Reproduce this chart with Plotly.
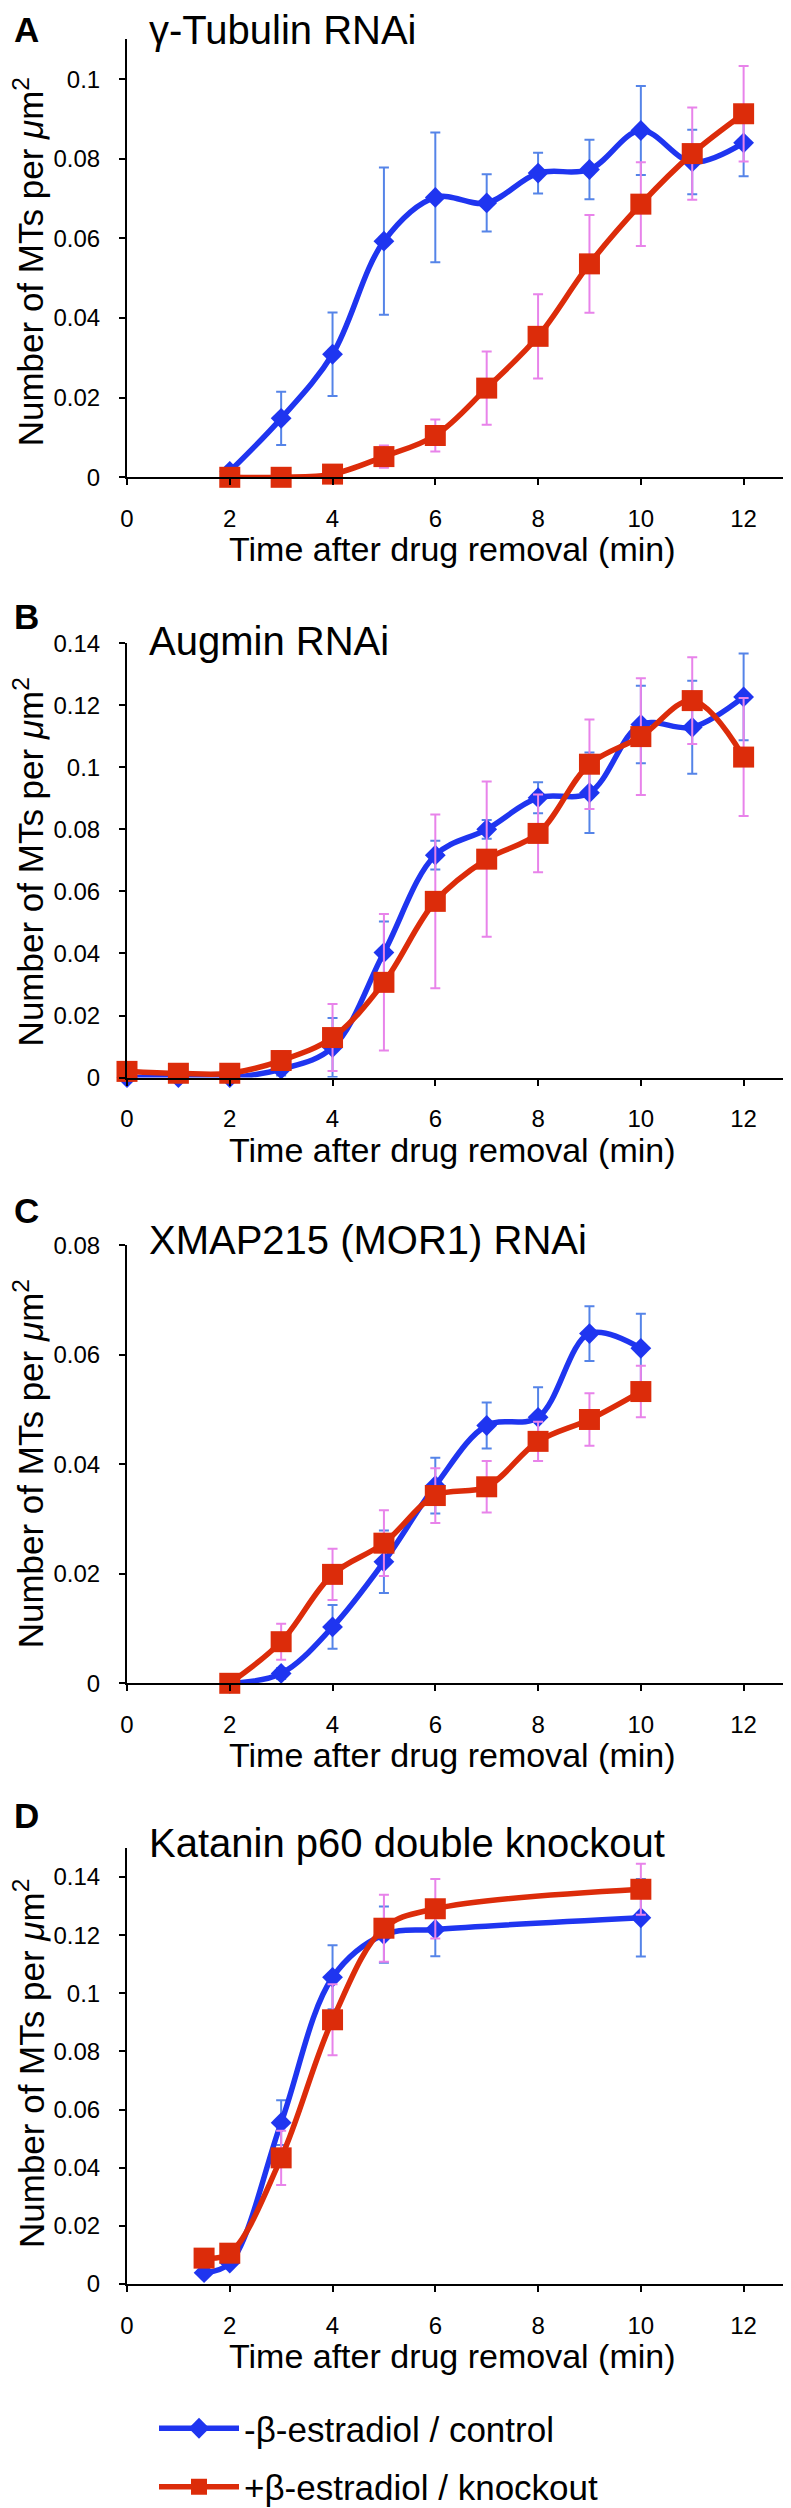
import plotly.graph_objects as go

W, H = 791, 2508

# ---------------- data ----------------
# Panel A: gamma-Tubulin RNAi
time_A = [2, 3, 4, 5, 6, 7, 8, 9, 10, 11, 12]
ctrl_A = [0.0015, 0.0148, 0.0309, 0.0593, 0.0703, 0.0689, 0.0764, 0.0773, 0.0871, 0.0792, 0.0840]
ctrl_A_err = [0.0, 0.0067, 0.0105, 0.0185, 0.0163, 0.0072, 0.0051, 0.0075, 0.0112, 0.0081, 0.0084]
ko_A = [0.0, 0.0, 0.0008, 0.0052, 0.0105, 0.0224, 0.0354, 0.0536, 0.0686, 0.0813, 0.0913]
ko_A_err = [0.0, 0.0, 0.0005, 0.0028, 0.0040, 0.0092, 0.0106, 0.0123, 0.0105, 0.0116, 0.0120]

# Panel B: Augmin RNAi
time_B = [0, 1, 2, 3, 4, 5, 6, 7, 8, 9, 10, 11, 12]
ctrl_B = [0.0, 0.0, 0.0, 0.0027, 0.0097, 0.0403, 0.0717, 0.0800, 0.0902, 0.0918, 0.1138, 0.1129, 0.1227]
ctrl_B_err = [0.0, 0.0, 0.0, 0.0020, 0.0095, 0.0100, 0.0046, 0.0030, 0.0050, 0.0130, 0.0125, 0.0150, 0.0140]
ko_B = [0.0020, 0.0014, 0.0014, 0.0055, 0.0129, 0.0307, 0.0568, 0.0704, 0.0787, 0.1010, 0.1099, 0.1215, 0.1033]
ko_B_err = [0.0010, 0.0010, 0.0010, 0.0030, 0.0108, 0.0220, 0.0280, 0.0250, 0.0125, 0.0144, 0.0188, 0.0140, 0.0190]

# Panel C: XMAP215 (MOR1) RNAi
time_C = [2, 3, 4, 5, 6, 7, 8, 9, 10]
ctrl_C = [0.0, 0.0018, 0.0103, 0.0222, 0.0361, 0.0471, 0.0486, 0.0639, 0.0612]
ctrl_C_err = [0.0, 0.0010, 0.0040, 0.0057, 0.0051, 0.0042, 0.0055, 0.0050, 0.0063]
ko_C = [0.0, 0.0076, 0.0199, 0.0256, 0.0343, 0.0359, 0.0442, 0.0482, 0.0533]
ko_C_err = [0.0, 0.0033, 0.0047, 0.0060, 0.0050, 0.0047, 0.0036, 0.0048, 0.0047]

# Panel D: Katanin p60 double knockout
time_D = [1.5, 2, 3, 4, 5, 6, 10]
ctrl_D = [0.0039, 0.0072, 0.0555, 0.1055, 0.1202, 0.1220, 0.1260]
ctrl_D_err = [0.0010, 0.0010, 0.0077, 0.0110, 0.0097, 0.0092, 0.0133]
ko_D = [0.0089, 0.0106, 0.0434, 0.0909, 0.1224, 0.1291, 0.1358]
ko_D_err = [0.0010, 0.0010, 0.0093, 0.0122, 0.0115, 0.0102, 0.0088]

x_ticks = [0, 2, 4, 6, 8, 10, 12]
y_ticks_A = [0, 0.02, 0.04, 0.06, 0.08, 0.1]
y_ticks_B = [0, 0.02, 0.04, 0.06, 0.08, 0.1, 0.12, 0.14]
y_ticks_C = [0, 0.02, 0.04, 0.06, 0.08]
y_ticks_D = [0, 0.02, 0.04, 0.06, 0.08, 0.1, 0.12, 0.14]

series_names = ["-β-estradiol / control", "+β-estradiol / knockout"]
panel_letters = ["A", "B", "C", "D"]
panel_titles = ["γ-Tubulin RNAi", "Augmin RNAi", "XMAP215 (MOR1) RNAi", "Katanin p60 double knockout"]
x_title = "Time after drug removal (min)"
y_title = "Number of MTs per <i>μ</i>m<sup>2</sup>"

# ---------------- style / layout ----------------
FONT = "Liberation Sans, Arial, Helvetica, sans-serif"
BLUE = "#1f35f0"
RED = "#dc2c0a"
BLUE_ERR = "#5584e8"
RED_ERR = "#e883ea"

panels = [
    dict(t=time_A, c=ctrl_A, ce=ctrl_A_err, k=ko_A, ke=ko_A_err, yt=y_ticks_A, ymax=0.11,
         zero=469.3, top=31.3, lab_y=21, title_y=22, ytitle_shift=4),
    dict(t=time_B, c=ctrl_B, ce=ctrl_B_err, k=ko_B, ke=ko_B_err, yt=y_ticks_B, ymax=0.14,
         zero=1069.6, top=635.2, lab_y=608, title_y=633, ytitle_shift=2),
    dict(t=time_C, c=ctrl_C, ce=ctrl_C_err, k=ko_C, ke=ko_C_err, yt=y_ticks_C, ymax=0.08,
         zero=1675.3, top=1237.4, lab_y=1202, title_y=1232, ytitle_shift=0),
    dict(t=time_D, c=ctrl_D, ce=ctrl_D_err, k=ko_D, ke=ko_D_err, yt=y_ticks_D, ymax=0.15,
         zero=2276, top=1840, lab_y=1807, title_y=1835, ytitle_shift=-2),
]

AX_X0, AX_X1 = 119, 787


def px(x):
    return x / W


def py(y):
    return 1 - y / H


def fmt(v):
    s = ("%.2f" % v).rstrip("0").rstrip(".")
    return s if s else "0"


fig = go.Figure()
layout = dict(
    width=W, height=H, autosize=False,
    margin=dict(l=0, r=0, t=0, b=0, pad=0, autoexpand=False),
    paper_bgcolor="white", plot_bgcolor="white",
    font=dict(family=FONT, color="black"),
    showlegend=True,
    legend=dict(x=px(146), y=0, xanchor="left", yanchor="bottom",
                font=dict(size=35, family=FONT), itemwidth=80,
                tracegroupgap=10, traceorder="grouped",
                bgcolor="rgba(0,0,0,0)"),
)
annotations = []

for i, p in enumerate(panels):
    n = "" if i == 0 else str(i + 1)
    xa, ya = "x" + n, "y" + n
    for j, (vals, errs, color, ecolor, sym, size) in enumerate([
        (p["c"], p["ce"], BLUE, BLUE_ERR, "diamond", 16),
        (p["k"], p["ke"], RED, RED_ERR, "square", 21),
    ]):
        fig.add_trace(go.Scatter(
            x=p["t"], y=vals, xaxis=xa, yaxis=ya,
            mode="lines+markers", name=series_names[j],
            legendgroup=series_names[j], showlegend=(i == 0),
            line=dict(color=color, width=5.5, shape="spline", smoothing=1),
            marker=dict(symbol=sym, size=size, color=color, line=dict(width=0)),
            error_y=dict(type="data", array=errs, color=ecolor, thickness=2, width=5),
            cliponaxis=False,
        ))
    layout["xaxis" + n] = dict(
        domain=[px(AX_X0), px(AX_X1)], range=[0, 13], anchor=ya,
        tickvals=x_ticks, ticktext=[str(v) for v in x_ticks],
        showline=True, linecolor="black", linewidth=2,
        ticks="outside", ticklen=6, tickwidth=2, tickcolor="black",
        tickfont=dict(size=24, family=FONT), ticklabelstandoff=13,
        showgrid=False, zeroline=False, fixedrange=True,
    )
    layout["yaxis" + n] = dict(
        domain=[py(p["zero"]), py(p["top"])], range=[0, p["ymax"]], anchor=xa,
        tickvals=p["yt"], ticktext=[fmt(v) for v in p["yt"]],
        showline=True, linecolor="black", linewidth=2,
        ticks="outside", ticklen=6, tickwidth=2, tickcolor="black",
        tickfont=dict(size=24, family=FONT), ticklabelstandoff=14,
        showgrid=False, zeroline=False, fixedrange=True,
    )
    annotations.append(dict(
        text="<b>%s</b>" % panel_letters[i], xref="paper", yref="paper",
        x=px(4), y=py(p["lab_y"]), xanchor="left", yanchor="middle",
        showarrow=False, font=dict(size=35, family=FONT)))
    annotations.append(dict(
        text=panel_titles[i], xref="paper", yref="paper",
        x=px(139), y=py(p["title_y"]), xanchor="left", yanchor="middle",
        showarrow=False, font=dict(size=40, family=FONT)))
    annotations.append(dict(
        text=x_title, xref="paper", yref="paper",
        x=px(445), y=py(p["zero"] + 72), xanchor="center", yanchor="middle",
        showarrow=False, font=dict(size=34, family=FONT)))
    annotations.append(dict(
        text=y_title, xref="paper", yref="paper", textangle=-90,
        x=px(21), y=py((p["zero"] + p["top"]) / 2 + p["ytitle_shift"]),
        xanchor="center", yanchor="middle",
        showarrow=False, font=dict(size=35, family=FONT)))

layout["annotations"] = annotations
fig.update_layout(**layout)
fig.write_html("out.html")
